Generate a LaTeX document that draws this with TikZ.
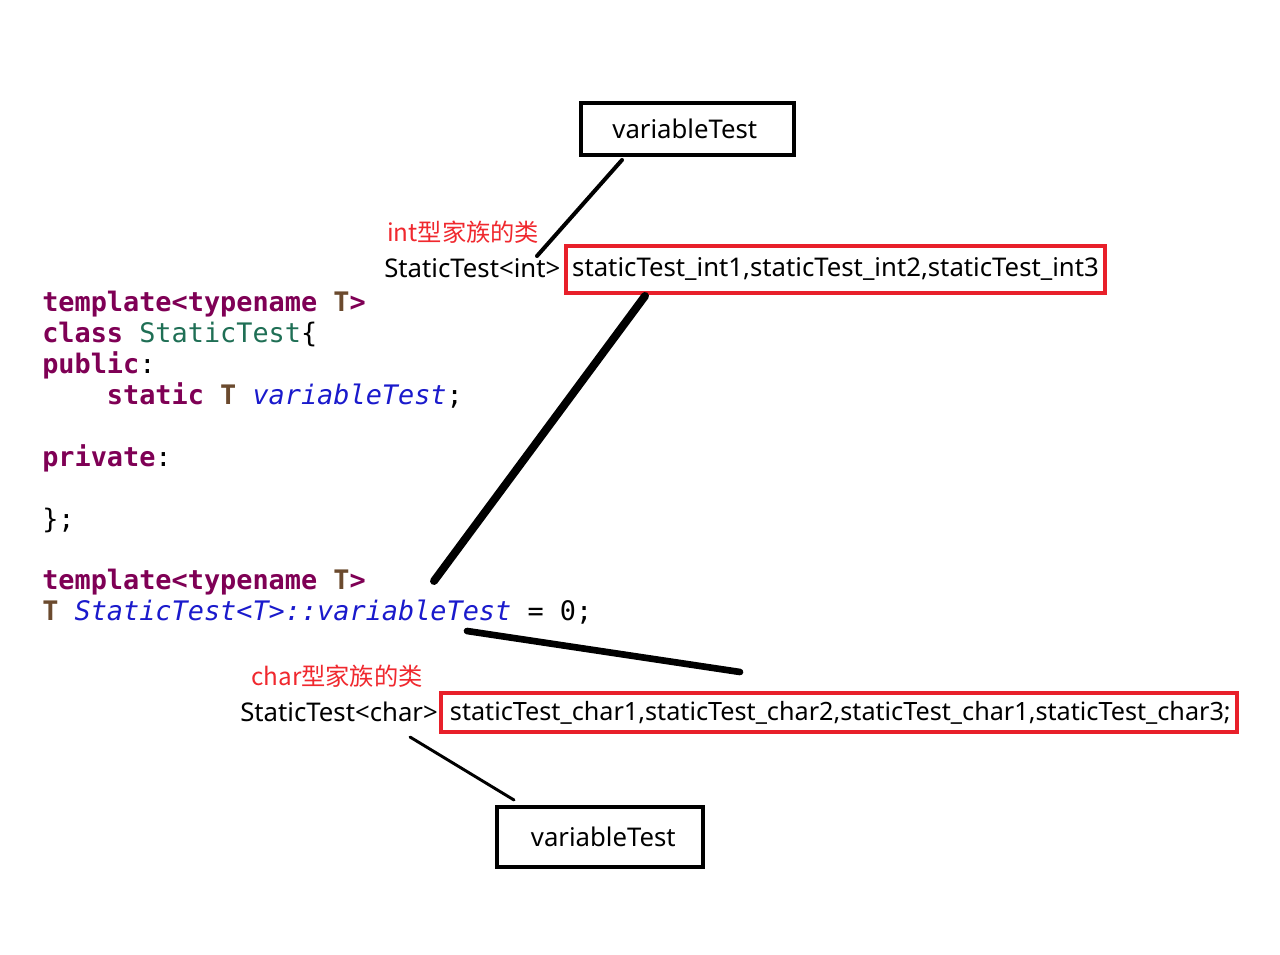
\documentclass[tikz,border=0pt]{standalone}
\usepackage{fontspec}
\setmainfont{Noto Sans}
\setmonofont{DejaVu Sans Mono}
\newfontfamily\cjk{Noto Sans CJK SC}
\definecolor{kw}{HTML}{7F0055}
\definecolor{ty}{HTML}{6B4A2E}
\definecolor{cls}{HTML}{1F6F55}
\definecolor{fld}{HTML}{1A1ACC}
\definecolor{redbox}{HTML}{E8202A}
\definecolor{redtxt}{HTML}{F0282E}
\newcommand{\kwd}[1]{{\bfseries\color{kw}#1}}
\newcommand{\tyd}[1]{{\bfseries\color{ty}#1}}
\newcommand{\fldd}[1]{{\itshape\color{fld}#1}}
\begin{document}
\begin{tikzpicture}[x=0.75pt,y=-0.75pt,
  codeline/.style={anchor=base west,inner sep=0pt,font=\ttfamily\fontsize{20.15}{23}\selectfont},
  label/.style={anchor=base west,inner sep=0pt,font=\fontsize{19.3}{21}\selectfont},
  cjklabel/.style={anchor=base west,inner sep=0pt,text=redtxt,font=\cjk\fontsize{18.2}{20}\selectfont},
  varbox/.style={draw=black,line width=3pt,inner sep=0pt,font=\fontsize{19.3}{21}\selectfont},
  redframe/.style={draw=redbox,line width=2.8pt,inner sep=0pt,font=\fontsize{19.3}{21}\selectfont},
  link/.style={line cap=round,black}]
\useasboundingbox[fill=white] (0,0) rectangle (1280,955);
% code
\node[codeline] (c1) at (42,311) {\kwd{template<typename} \tyd{T}\kwd{>}};
\node[codeline] (c2) at (42,342) {\kwd{class} {\color{cls}StaticTest}\{};
\node[codeline] (c3) at (42,373) {\kwd{public}:};
\node[codeline] (c4) at (42,404) {\phantom{xxxx}\kwd{static} \tyd{T} \fldd{variableTest};};
\node[codeline] (c6) at (42,466) {\kwd{private}:};
\node[codeline] (c8) at (42,528) {\};};
\node[codeline] (c10) at (42,589) {\kwd{template<typename} \tyd{T}\kwd{>}};
\node[codeline] (c11) at (42,620) {\tyd{T} \fldd{StaticTest<T>::variableTest} = 0;};
% top part
\node[varbox,minimum width=159.75pt,minimum height=39pt] (vt1) at (687.5,129) {\hspace*{-4pt}variableTest};
\node[cjklabel] (lint) at (387,242) {int型家族的类};
\node[label] (sint) at (384,278) {StaticTest<int>};
\node[redframe,minimum width=404.25pt,minimum height=35.25pt] (rint) at (835.5,269.5) {staticTest\_int1,staticTest\_int2,staticTest\_int3};
% bottom part
\node[cjklabel] (lchar) at (251,685) {char型家族的类};
\node[label] (schar) at (240,721) {StaticTest<char>};
\node[redframe,minimum width=597pt,minimum height=29.25pt,font=\fontsize{18.9}{21}\selectfont] (rchar) at (839,712.5) {\hspace*{2pt}staticTest\_char1,staticTest\_char2,staticTest\_char1,staticTest\_char3;};
\node[varbox,minimum width=154.5pt,minimum height=45pt] (vt2) at (600,837) {\hspace*{5pt}variableTest};
% connectors
\coordinate (a1) at (622,160);
\coordinate (a2) at (537,256);
\coordinate (b1) at (645,296);
\coordinate (b2) at (434,581);
\coordinate (m1) at (467,631);
\coordinate (m2) at (740,672);
\coordinate (d1) at (410,737);
\coordinate (d2) at (514,800);
\draw[link,line width=3pt] (a1) -- (a2);
\draw[link,line width=6pt] (b1) -- (b2);
\draw[link,line width=5pt] (m1) -- (m2);
\draw[link,line width=2.2pt] (d1) -- (d2);
\end{tikzpicture}
\end{document}
